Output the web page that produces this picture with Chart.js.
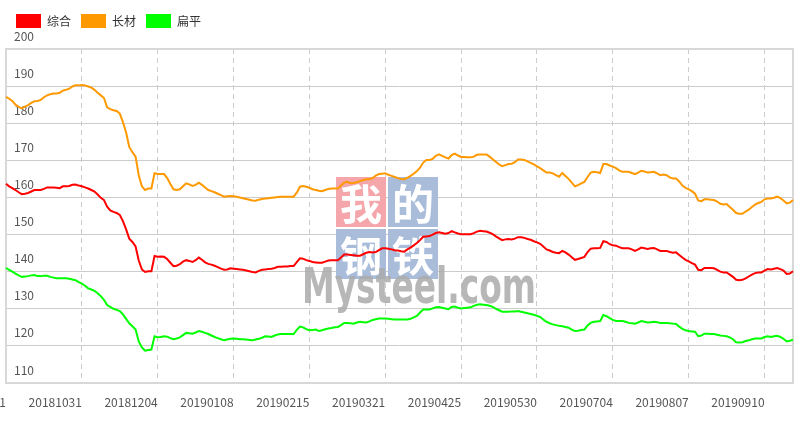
<!DOCTYPE html>
<html><head><meta charset="utf-8">
<script src="https://cdn.jsdelivr.net/npm/chart.js@4.4.0/dist/chart.umd.min.js"></script>
<style>html,body{margin:0;padding:0;background:#fff;}canvas{display:block;}</style>
</head><body>
<canvas id="c" width="805" height="424"></canvas>
<script>
const tickLabels = ["20180921","20181031","20181204","20190108","20190215","20190321","20190425","20190530","20190704","20190807","20190910"];
const tickEvery = 24;
const seriesNames = ["综合","长材","扁平"];
const seriesColors = ["#ff0000","#ff9900","#00ff00"];
const yTicks = [110,120,130,140,150,160,170,180,190,200];

const composite = [
163.7,163.0,162.5,162.0,161.4,160.9,161.0,161.2,161.6,162.0,
162.0,162.0,162.3,162.7,162.7,162.7,162.6,162.5,163.0,163.0,
163.1,163.4,163.5,163.2,163.0,162.7,162.4,162.0,161.6,160.8,
159.9,159.3,157.5,156.5,156.1,155.8,155.3,153.6,151.4,148.9,
148.0,146.8,143.0,140.6,139.9,140.1,140.1,144.2,144.0,144.1,
144.0,143.4,142.4,141.5,141.6,142.0,142.7,143.1,142.9,142.6,
143.1,143.8,143.2,142.5,142.1,141.9,141.6,141.2,140.8,140.5,
140.6,140.9,140.8,140.7,140.6,140.5,140.3,140.1,139.9,139.8,
140.2,140.5,140.6,140.7,140.8,141.0,141.3,141.3,141.4,141.4,
141.5,141.5,142.6,143.6,143.5,143.1,142.9,142.6,142.5,142.4,
142.4,142.7,143.0,143.1,143.1,143.1,143.8,144.6,144.6,144.5,
144.4,144.3,144.3,144.7,145.1,145.3,145.2,145.3,145.8,146.3,
146.3,146.2,146.0,145.8,145.7,145.5,145.4,146.0,146.5,147.1,
147.7,148.5,149.4,149.5,149.6,150.0,150.4,150.6,150.4,150.2,
150.4,150.9,150.6,150.3,150.1,150.1,150.1,150.1,150.4,150.8,
151.0,150.9,150.8,150.5,150.1,149.5,149.0,148.5,148.7,148.8,
148.7,148.9,149.3,149.3,149.1,148.8,148.6,148.2,147.9,147.5,
146.8,146.0,145.7,145.3,145.1,145.0,145.6,145.2,144.6,143.9,
143.2,143.4,143.7,144.0,145.3,146.2,146.3,146.3,146.4,148.2,
148.0,147.4,147.1,147.0,146.6,146.3,146.3,146.3,146.0,145.6,
146.0,146.5,146.3,146.1,146.3,146.4,146.0,145.6,145.6,145.6,
145.3,145.1,145.2,144.5,143.8,143.2,142.8,142.3,141.9,140.5,
140.4,141.0,141.0,141.0,140.9,140.5,140.0,139.8,139.8,139.2,
138.6,137.8,137.7,137.8,138.2,138.7,139.2,139.6,139.8,139.8,
140.3,140.7,140.6,140.8,141.0,140.7,140.3,139.4,139.5,140.1
];
const longSteel = [
187.1,186.6,186.0,185.0,184.4,184.0,184.5,184.9,185.5,185.9,
186.0,186.3,187.0,187.5,187.8,188.0,188.0,188.2,188.8,189.0,
189.3,189.9,190.2,190.2,190.3,190.2,189.9,189.6,189.0,188.2,
187.5,186.8,184.3,183.8,183.5,183.3,182.6,180.3,177.5,173.6,
172.2,171.0,166.0,163.0,162.0,162.4,162.4,166.5,166.3,166.3,
166.3,165.2,163.6,162.2,162.0,162.2,163.0,163.8,163.5,163.1,
163.4,164.0,163.4,162.7,162.0,161.7,161.4,161.0,160.6,160.2,
160.3,160.4,160.3,160.2,160.0,159.8,159.6,159.4,159.2,159.1,
159.4,159.6,159.7,159.8,159.9,160.0,160.1,160.2,160.2,160.2,
160.2,160.2,161.3,162.9,163.1,162.9,162.6,162.2,162.0,161.8,
161.7,162.0,162.3,162.4,162.4,162.4,163.2,164.0,164.2,163.8,
163.9,164.1,164.4,164.7,164.9,165.0,165.2,165.9,166.3,166.4,
166.5,166.1,165.8,165.5,165.2,165.0,164.9,165.3,165.8,166.4,
167.1,168.0,169.4,170.1,170.1,170.4,171.2,171.6,171.2,170.8,
170.5,171.4,171.8,171.3,170.9,170.9,170.8,170.8,171.0,171.5,
171.6,171.6,171.6,171.0,170.3,169.6,168.9,168.4,168.7,169.0,
169.1,169.5,170.2,170.2,170.1,169.7,169.3,168.9,168.4,167.9,
167.3,166.7,166.7,166.5,166.0,165.6,166.6,165.8,165.0,164.0,
163.0,163.3,163.8,164.2,165.5,166.7,166.9,166.8,166.6,169.0,
169.0,168.6,168.3,167.9,167.3,166.9,166.9,166.9,166.6,166.3,
166.7,167.2,167.0,166.7,166.8,166.9,166.5,166.0,166.2,166.0,
165.4,165.1,165.1,164.3,163.2,162.6,162.2,161.7,161.0,159.2,
159.0,159.5,159.5,159.4,159.3,158.9,158.3,158.1,158.2,157.4,
156.7,155.8,155.6,155.6,156.2,156.7,157.4,158.1,158.5,158.8,
159.5,159.7,159.7,159.9,160.2,159.8,159.2,158.4,158.6,159.3
];
const flatSteel = [
141.0,140.5,140.0,139.5,139.0,138.6,138.7,138.8,139.0,139.1,
138.8,138.8,138.9,138.9,138.6,138.4,138.2,138.2,138.2,138.2,
138.1,137.9,137.7,137.2,136.8,136.2,135.5,135.2,134.8,134.2,
133.4,132.4,131.0,130.5,130.0,129.7,129.4,128.5,127.3,126.1,
125.3,124.4,121.2,119.6,118.7,118.9,119.0,122.6,122.3,122.4,
122.6,122.5,122.1,121.8,122.0,122.3,122.9,123.5,123.4,123.3,
123.6,124.0,123.8,123.5,123.2,122.8,122.4,122.1,121.8,121.5,
121.7,121.9,122.0,121.9,121.8,121.8,121.7,121.6,121.5,121.7,
121.9,122.2,122.6,122.5,122.4,122.8,123.1,123.2,123.2,123.2,
123.2,123.2,124.3,125.2,125.0,124.5,124.2,124.3,124.4,124.0,
124.2,124.5,124.7,124.8,125.0,125.1,125.6,126.2,126.2,126.1,
126.0,126.3,126.5,126.4,126.3,126.6,127.0,127.2,127.4,127.4,
127.4,127.3,127.2,127.1,127.1,127.1,127.1,127.1,127.3,127.7,
128.1,129.0,129.8,129.8,129.8,130.1,130.4,130.5,130.3,130.1,
129.9,130.5,130.6,130.3,130.1,130.2,130.3,130.4,130.8,131.1,
131.2,131.1,131.0,130.8,130.5,130.0,129.6,129.2,129.2,129.2,
129.3,129.3,129.4,129.2,129.0,128.8,128.6,128.4,128.1,127.8,
127.1,126.5,126.1,125.8,125.6,125.4,125.3,125.1,124.9,124.4,
124.0,124.1,124.3,124.4,125.5,126.2,126.5,126.6,126.7,128.3,
128.0,127.5,127.0,126.7,126.7,126.7,126.5,126.2,126.1,126.0,
126.3,126.7,126.5,126.3,126.4,126.5,126.4,126.2,126.2,126.2,
126.1,126.0,125.9,125.2,124.6,124.2,124.0,123.9,123.8,122.6,
122.8,123.3,123.3,123.2,123.2,123.0,122.8,122.7,122.6,122.3,
121.8,121.0,120.9,121.0,121.3,121.5,121.8,122.0,122.0,122.0,
122.4,122.6,122.4,122.6,122.7,122.4,121.9,121.2,121.4,121.7
];

const categories = composite.map((_, i) => (i % tickEvery === 0 && tickLabels[i / tickEvery]) ? tickLabels[i / tickEvery] : '');
const FONT = '"Noto Sans CJK SC", "Noto Sans", sans-serif';

const frameAndMark = {
  id: 'frameAndMark',
  beforeDatasetsDraw(chart) {
    const {ctx, chartArea: a} = chart;
    ctx.save();
    const cells = [[336,177,'#f4a6aa','我'],[388,177,'#a9bddb','的'],[336,229,'#a9bddb','钢'],[388,229,'#a9bddb','铁']];
    cells.forEach(([x,y,c,t]) => {
      ctx.fillStyle = c; ctx.fillRect(x, y, 50, 50);
      ctx.fillStyle = '#ffffff';
      ctx.font = 'bold 42px "Noto Sans CJK SC"';
      ctx.textAlign = 'center'; ctx.textBaseline = 'middle';
      ctx.fillText(t, x + 25, y + 27);
    });
    ctx.fillStyle = 'rgba(170,170,170,0.85)';
    ctx.font = 'bold 50px "DejaVu Sans"';
    ctx.textAlign = 'left'; ctx.textBaseline = 'alphabetic';
    ctx.fillText('Mysteel.com', 302, 303, 234);
    ctx.strokeStyle = '#d8d8d8';
    ctx.lineWidth = 2;
    ctx.strokeRect(a.left, a.top, a.right - a.left, a.bottom - a.top);
    ctx.restore();
  }
};

new Chart(document.getElementById('c'), {
  type: 'line',
  data: {
    labels: categories,
    datasets: [
      {label: seriesNames[0], data: composite, borderColor: seriesColors[0], backgroundColor: seriesColors[0]},
      {label: seriesNames[1], data: longSteel, borderColor: seriesColors[1], backgroundColor: seriesColors[1]},
      {label: seriesNames[2], data: flatSteel, borderColor: seriesColors[2], backgroundColor: seriesColors[2]}
    ]
  },
  options: {
    responsive: false,
    animation: false,
    events: [],
    layout: {padding: {top: 4, left: 6, right: 12, bottom: 0}},
    elements: {
      point: {radius: 0},
      line: {borderWidth: 2, tension: 0, fill: false}
    },
    plugins: {
      tooltip: {enabled: false},
      legend: {
        position: 'top',
        align: 'start',
        labels: {
          boxWidth: 25, boxHeight: 14, padding: 10, color: '#333',
          font: {family: FONT, size: 12},
          generateLabels(chart) {
            const items = Chart.defaults.plugins.legend.labels.generateLabels(chart);
            items.forEach(it => { it.lineWidth = 0; });
            return items;
          }
        }
      }
    },
    scales: {
      x: {
        type: 'category',
        grid: {
          color: '#cccccc',
          lineWidth: (ctx) => (ctx.index % tickEvery === 0 ? 1 : 0),
          drawTicks: false
        },
        border: {display: false, dash: [5, 4]},
        ticks: {
          autoSkip: false, maxRotation: 0, minRotation: 0,
          align: 'end', padding: 12, color: '#555',
          font: {family: FONT, size: 12}
        },
        afterFit(s) { s.paddingLeft = 0; s.paddingRight = 0; s.height = 41; }
      },
      xTop: {
        type: 'category',
        position: 'top',
        grid: {display: false, drawTicks: false},
        border: {display: false},
        ticks: {display: false},
        afterFit(s) { s.paddingLeft = 0; s.paddingRight = 0; s.height = 11; }
      },
      y: {
        min: yTicks[0], max: yTicks[yTicks.length - 1],
        afterBuildTicks(s) { s.ticks = yTicks.map(v => ({value: v})); },
        grid: {color: '#cccccc', lineWidth: 1, drawTicks: false},
        border: {display: false},
        ticks: {
          mirror: true, padding: 8, labelOffset: -13, color: '#555',
          font: {family: FONT, size: 12}
        },
        afterFit(s) { s.width = 0; s.paddingTop = 0; s.paddingBottom = 0; }
      }
    }
  },
  plugins: [frameAndMark]
});
</script>
</body></html>
